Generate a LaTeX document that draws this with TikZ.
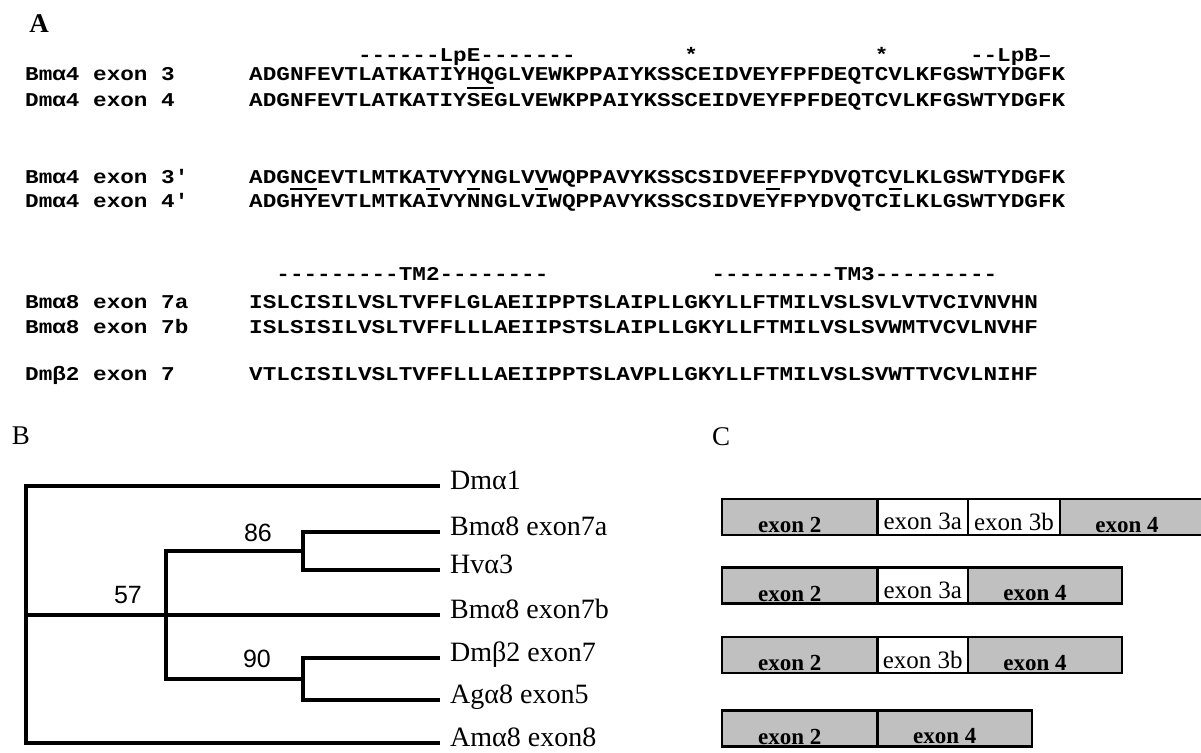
\documentclass[tikz,border=0pt]{standalone}
\usepackage{fontspec}
\setmainfont{Liberation Serif}
\newfontfamily\seqfont{Liberation Mono}[FakeStretch=1.16]
\newfontfamily\bootfont{Liberation Sans}
\usetikzlibrary{positioning}
\definecolor{exgray}{RGB}{192,192,192}
% overline over residues that differ
\newcommand\ovl[1]{\setbox0\hbox{#1}\rlap{\raisebox{17.5pt}{\rule{\wd0}{1.4pt}}}\box0}
\newcommand\pitch{13.6}

\begin{document}
\begin{tikzpicture}[x=1pt, y=-1pt,
  seqtxt/.style={font=\seqfont\bfseries\fontsize{19.54pt}{21pt}\selectfont, inner sep=0, anchor=base west},
  panel/.style={font=\fontsize{27pt}{29pt}\selectfont, inner sep=0},
  leaf/.style={anchor=west, inner xsep=10pt, inner ysep=0, text height=0.66em, text depth=0pt, font=\fontsize{28pt}{30pt}\selectfont},
  boot/.style={font=\bootfont\fontsize{25pt}{27pt}\selectfont, inner sep=0},
  branch/.style={line width=3.2pt},
  exbox/.style={draw, line width=2.2pt, minimum height=36pt, inner sep=0, outer sep=0},
  gbox/.style={exbox, fill=exgray},
  wbox/.style={exbox, fill=white},
  exlbl/.style={yshift=-4.5pt, font=\fontsize{25pt}{27pt}\selectfont},
  exbold/.style={xshift=-10pt, yshift=-8pt, font=\bfseries\fontsize{23pt}{25pt}\selectfont}]
  \useasboundingbox (0,0) rectangle (1201,752);

  % panel A: alignments
  \node[panel, font=\bfseries\fontsize{27pt}{29pt}\selectfont] (pa) at (39,24) {A};

  \node[seqtxt] (hlpe) at ({249+8*\pitch},61) {------LpE-------};
  \node[seqtxt] (star1) at ({249+32*\pitch},62) {*};
  \node[seqtxt] (star2) at ({249+46*\pitch},62) {*};
  \node[seqtxt] (hlpb) at ({249+53*\pitch},61) {--LpB–};

  \node[seqtxt] (l1) at (25,81) {Bmα4 exon 3};
  \node[seqtxt] (s1) at (249,81) {ADGNFEVTLATKATIYHQGLVEWKPPAIYKSSCEIDVEYFPFDEQTCVLKFGSWTYDGFK};
  \node[seqtxt] (l2) at (25,106) {Dmα4 exon 4};
  \node[seqtxt] (s2) at (249,106) {ADGNFEVTLATKATIY\ovl{SE}GLVEWKPPAIYKSSCEIDVEYFPFDEQTCVLKFGSWTYDGFK};

  \node[seqtxt] (l3) at (25,183) {Bmα4 exon 3′};
  \node[seqtxt] (s3) at (249,183) {ADGNCEVTLMTKATVYYNGLVVWQPPAVYKSSCSIDVEFFPYDVQTCVLKLGSWTYDGFK};
  \node[seqtxt] (l4) at (25,207) {Dmα4 exon 4′};
  \node[seqtxt] (s4) at (249,207) {ADG\ovl{HY}EVTLMTKA\ovl{I}VY\ovl{N}NGLV\ovl{I}WQPPAVYKSSCSIDVE\ovl{Y}FPYDVQTC\ovl{I}LKLGSWTYDGFK};

  \node[seqtxt] (htm2) at ({249+2*\pitch},280) {---------TM2--------};
  \node[seqtxt] (htm3) at ({249+34*\pitch},280) {---------TM3---------};

  \node[seqtxt] (l5) at (25,308) {Bmα8 exon 7a};
  \node[seqtxt] (s5) at (249,308) {ISLCISILVSLTVFFLGLAEIIPPTSLAIPLLGKYLLFTMILVSLSVLVTVCIVNVHN};
  \node[seqtxt] (l6) at (25,333) {Bmα8 exon 7b};
  \node[seqtxt] (s6) at (249,333) {ISLSISILVSLTVFFLLLAEIIPSTSLAIPLLGKYLLFTMILVSLSVWMTVCVLNVHF};
  \node[seqtxt] (l7) at (25,380) {Dmβ2 exon 7};
  \node[seqtxt] (s7) at (249,380) {VTLCISILVSLTVFFLLLAEIIPPTSLAVPLLGKYLLFTMILVSLSVWTTVCVLNIHF};

  % panel B: tree
  \node[panel] (pb) at (21,436) {B};
  \node[leaf] (dma1) at (440,486) {Dmα1};
  \node[leaf] (bm7a) at (440,532) {Bmα8 exon7a};
  \node[leaf] (hva3) at (440,570) {Hvα3};
  \node[leaf] (bm7b) at (440,615) {Bmα8 exon7b};
  \node[leaf] (dmb2) at (440,658) {Dmβ2 exon7};
  \node[leaf] (aga8) at (440,700) {Agα8 exon5};
  \node[leaf] (ama8) at (440,743) {Amα8 exon8};

  \coordinate (root) at (26,615);
  \coordinate (n57) at (166,615);
  \coordinate (n86) at (303,551);
  \coordinate (n90) at (303,679);

  \draw[branch] (dma1.west) -| (root) |- (ama8.west);
  \draw[branch] (root) -- (bm7b.west);
  \draw[branch] (n86) -| (n57) |- (n90);
  \draw[branch] (bm7a.west) -| (n86) |- (hva3.west);
  \draw[branch] (dmb2.west) -| (n90) |- (aga8.west);

  \node[boot] (b86) at (258,533) {86};
  \node[boot] (b57) at (128,595) {57};
  \node[boot] (b90) at (257,659) {90};

  % panel C: exon structure
  \node[panel] (pc) at (721,437) {C};

  \node[gbox, minimum width=155.5pt, anchor=west, label={[exbold]center:exon 2}] (r1e2) at (722,517) {};
  \node[wbox, minimum width=90.5pt, right=0pt of r1e2, label={[exlbl]center:exon 3a}] (r1e3a) {};
  \node[wbox, minimum width=92pt, right=0pt of r1e3a, label={[exlbl]center:exon 3b}] (r1e3b) {};
  \node[gbox, minimum width=154pt, right=0pt of r1e3b, label={[exbold]center:exon 4}] (r1e4) {};

  \node[gbox, minimum width=155.5pt, anchor=west, label={[exbold]center:exon 2}] (r2e2) at (722,585.5) {};
  \node[wbox, minimum width=90.5pt, right=0pt of r2e2, label={[exlbl]center:exon 3a}] (r2e3a) {};
  \node[gbox, minimum width=154pt, right=0pt of r2e3a, label={[exbold]center:exon 4}] (r2e4) {};

  \node[gbox, minimum width=155.5pt, anchor=west, label={[exbold]center:exon 2}] (r3e2) at (722,655) {};
  \node[wbox, minimum width=90.5pt, right=0pt of r3e2, label={[exlbl]center:exon 3b}] (r3e3b) {};
  \node[gbox, minimum width=154pt, right=0pt of r3e3b, label={[exbold]center:exon 4}] (r3e4) {};

  \node[gbox, minimum width=155.5pt, anchor=west, label={[exbold]center:exon 2}] (r4e2) at (722,728.5) {};
  \node[gbox, minimum width=154.5pt, right=0pt of r4e2, label={[exbold]center:exon 4}] (r4e4) {};
\end{tikzpicture}
\end{document}
